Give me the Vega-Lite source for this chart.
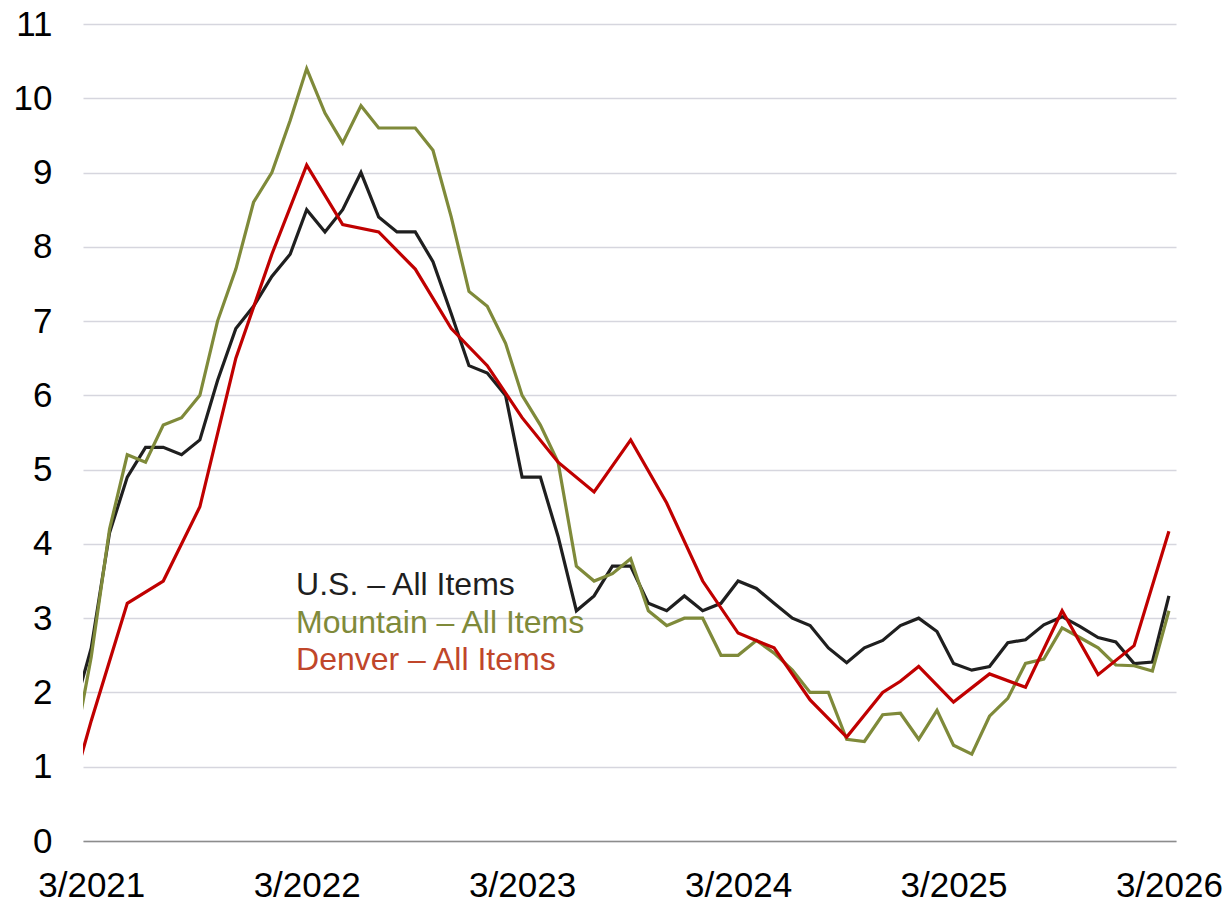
{
  "$schema": "https://vega.github.io/schema/vega-lite/v6.json",
  "width": 1093,
  "height": 817,
  "autosize": "none",
  "padding": {"left": 83, "top": 24, "right": 53, "bottom": 61},
  "background": "white",
  "config": {"view": {"stroke": null}, "font": "Liberation Sans"},
  "datasets": {
    "cpi": [
      {"date": "2021-02-01", "us": 1.8, "mountain": 1.28, "denver": 0.83},
      {"date": "2021-03-01", "us": 2.6, "mountain": 2.48, "denver": 1.62},
      {"date": "2021-04-01", "us": 4.15, "mountain": 4.2},
      {"date": "2021-05-01", "us": 4.9, "mountain": 5.2, "denver": 3.2},
      {"date": "2021-06-01", "us": 5.3, "mountain": 5.1},
      {"date": "2021-07-01", "us": 5.3, "mountain": 5.6, "denver": 3.5},
      {"date": "2021-08-01", "us": 5.2, "mountain": 5.7},
      {"date": "2021-09-01", "us": 5.4, "mountain": 6.0, "denver": 4.5},
      {"date": "2021-10-01", "us": 6.2, "mountain": 7.0},
      {"date": "2021-11-01", "us": 6.9, "mountain": 7.7, "denver": 6.5},
      {"date": "2021-12-01", "us": 7.2, "mountain": 8.6},
      {"date": "2022-01-01", "us": 7.6, "mountain": 9.0, "denver": 7.9},
      {"date": "2022-02-01", "us": 7.9, "mountain": 9.7},
      {"date": "2022-03-01", "us": 8.5, "mountain": 10.4, "denver": 9.1},
      {"date": "2022-04-01", "us": 8.2, "mountain": 9.8},
      {"date": "2022-05-01", "us": 8.5, "mountain": 9.4, "denver": 8.3},
      {"date": "2022-06-01", "us": 9.0, "mountain": 9.9},
      {"date": "2022-07-01", "us": 8.4, "mountain": 9.6, "denver": 8.2},
      {"date": "2022-08-01", "us": 8.2, "mountain": 9.6},
      {"date": "2022-09-01", "us": 8.2, "mountain": 9.6, "denver": 7.7},
      {"date": "2022-10-01", "us": 7.8, "mountain": 9.3},
      {"date": "2022-11-01", "us": 7.1, "mountain": 8.4, "denver": 6.9},
      {"date": "2022-12-01", "us": 6.4, "mountain": 7.4},
      {"date": "2023-01-01", "us": 6.3, "mountain": 7.2, "denver": 6.4},
      {"date": "2023-02-01", "us": 6.0, "mountain": 6.7},
      {"date": "2023-03-01", "us": 4.9, "mountain": 6.0, "denver": 5.7},
      {"date": "2023-04-01", "us": 4.9, "mountain": 5.6},
      {"date": "2023-05-01", "us": 4.1, "mountain": 5.1, "denver": 5.1},
      {"date": "2023-06-01", "us": 3.1, "mountain": 3.7},
      {"date": "2023-07-01", "us": 3.3, "mountain": 3.5, "denver": 4.7},
      {"date": "2023-08-01", "us": 3.7, "mountain": 3.6},
      {"date": "2023-09-01", "us": 3.7, "mountain": 3.8, "denver": 5.4},
      {"date": "2023-10-01", "us": 3.2, "mountain": 3.1},
      {"date": "2023-11-01", "us": 3.1, "mountain": 2.9, "denver": 4.55},
      {"date": "2023-12-01", "us": 3.3, "mountain": 3.0},
      {"date": "2024-01-01", "us": 3.1, "mountain": 3.0, "denver": 3.5},
      {"date": "2024-02-01", "us": 3.2, "mountain": 2.5},
      {"date": "2024-03-01", "us": 3.5, "mountain": 2.5, "denver": 2.8},
      {"date": "2024-04-01", "us": 3.4, "mountain": 2.7},
      {"date": "2024-05-01", "us": 3.2, "mountain": 2.53, "denver": 2.6},
      {"date": "2024-06-01", "us": 3.0, "mountain": 2.3},
      {"date": "2024-07-01", "us": 2.9, "mountain": 2.0, "denver": 1.9},
      {"date": "2024-08-01", "us": 2.6, "mountain": 2.0},
      {"date": "2024-09-01", "us": 2.4, "mountain": 1.37, "denver": 1.4},
      {"date": "2024-10-01", "us": 2.6, "mountain": 1.34},
      {"date": "2024-11-01", "us": 2.7, "mountain": 1.7, "denver": 2.0},
      {"date": "2024-12-01", "us": 2.9, "mountain": 1.72, "denver": 2.15},
      {"date": "2025-01-01", "us": 3.0, "mountain": 1.37, "denver": 2.35},
      {"date": "2025-02-01", "us": 2.82, "mountain": 1.76},
      {"date": "2025-03-01", "us": 2.39, "mountain": 1.29, "denver": 1.87},
      {"date": "2025-04-01", "us": 2.3, "mountain": 1.17},
      {"date": "2025-05-01", "us": 2.35, "mountain": 1.68, "denver": 2.25},
      {"date": "2025-06-01", "us": 2.67, "mountain": 1.92},
      {"date": "2025-07-01", "us": 2.71, "mountain": 2.39, "denver": 2.07},
      {"date": "2025-08-01", "us": 2.91, "mountain": 2.45},
      {"date": "2025-09-01", "us": 3.02, "mountain": 2.87, "denver": 3.1},
      {"date": "2025-10-01", "us": 2.89, "mountain": 2.74},
      {"date": "2025-11-01", "us": 2.74, "mountain": 2.6, "denver": 2.24},
      {"date": "2025-12-01", "us": 2.68, "mountain": 2.37},
      {"date": "2026-01-01", "us": 2.39, "mountain": 2.36, "denver": 2.63},
      {"date": "2026-02-01", "us": 2.41, "mountain": 2.29},
      {"date": "2026-03-01", "us": 3.3, "mountain": 3.1, "denver": 4.17}
    ],
    "labels": [
      {"date": "2022-02-11", "value": 3.313, "label": "U.S. – All Items"},
      {"date": "2022-02-11", "value": 2.80, "label": "Mountain – All Items"},
      {"date": "2022-02-11", "value": 2.30, "label": "Denver – All Items"}
    ]
  },
  "encoding": {
    "x": {
      "field": "date",
      "type": "temporal",
      "scale": {
        "type": "utc",
        "domain": [
          {"year": 2021, "month": 2, "date": 15, "utc": true},
          {"year": 2026, "month": 3, "date": 13, "utc": true}
        ]
      },
      "axis": {
        "title": null,
        "values": [
          {"year": 2021, "month": 3, "date": 1, "utc": true},
          {"year": 2022, "month": 3, "date": 1, "utc": true},
          {"year": 2023, "month": 3, "date": 1, "utc": true},
          {"year": 2024, "month": 3, "date": 1, "utc": true},
          {"year": 2025, "month": 3, "date": 1, "utc": true},
          {"year": 2026, "month": 3, "date": 1, "utc": true}
        ],
        "labelExpr": "'3/' + utcyear(datum.value)",
        "grid": false,
        "ticks": false,
        "domain": true,
        "domainColor": "#8c8c8c",
        "domainWidth": 1.5,
        "labelFont": "Liberation Sans",
        "labelFontSize": 35,
        "labelColor": "#000000",
        "labelPadding": 27,
        "labelFlush": false,
        "labelOverlap": false,
        "labelBound": false,
        "zindex": 1
      }
    },
    "y": {
      "field": "value",
      "type": "quantitative",
      "scale": {"domain": [0, 11], "nice": false, "zero": true},
      "axis": {
        "title": null,
        "values": [0, 1, 2, 3, 4, 5, 6, 7, 8, 9, 10, 11],
        "grid": true,
        "gridColor": "#d6d6de",
        "gridWidth": 1.3,
        "domain": false,
        "ticks": false,
        "labelFont": "Liberation Sans",
        "labelFontSize": 35,
        "labelColor": "#000000",
        "labelPadding": 31,
        "labelBound": false,
        "labelOverlap": false,
        "labelFlush": false
      }
    }
  },
  "layer": [
    {
      "data": {"name": "cpi"},
      "transform": [
        {"fold": ["us"], "as": ["series", "value"]},
        {"filter": "isValid(datum.value)"}
      ],
      "mark": {"type": "line", "color": "#1f1f1f", "strokeWidth": 3.2, "clip": true}
    },
    {
      "data": {"name": "cpi"},
      "transform": [
        {"fold": ["mountain"], "as": ["series", "value"]},
        {"filter": "isValid(datum.value)"}
      ],
      "mark": {"type": "line", "color": "#7f8a3a", "strokeWidth": 3.2, "clip": true}
    },
    {
      "data": {"name": "cpi"},
      "transform": [
        {"fold": ["denver"], "as": ["series", "value"]},
        {"filter": "isValid(datum.value)"}
      ],
      "mark": {"type": "line", "color": "#c00000", "strokeWidth": 3.2, "clip": true}
    },
    {
      "data": {"name": "labels"},
      "mark": {"type": "text", "align": "left", "baseline": "alphabetic", "fontSize": 32, "font": "Liberation Sans"},
      "encoding": {
        "text": {"field": "label"},
        "color": {
          "field": "label",
          "type": "nominal",
          "scale": {
            "domain": ["U.S. – All Items", "Mountain – All Items", "Denver – All Items"],
            "range": ["#1f1f1f", "#7f8a3a", "#c0462a"]
          },
          "legend": null
        }
      }
    }
  ]
}
